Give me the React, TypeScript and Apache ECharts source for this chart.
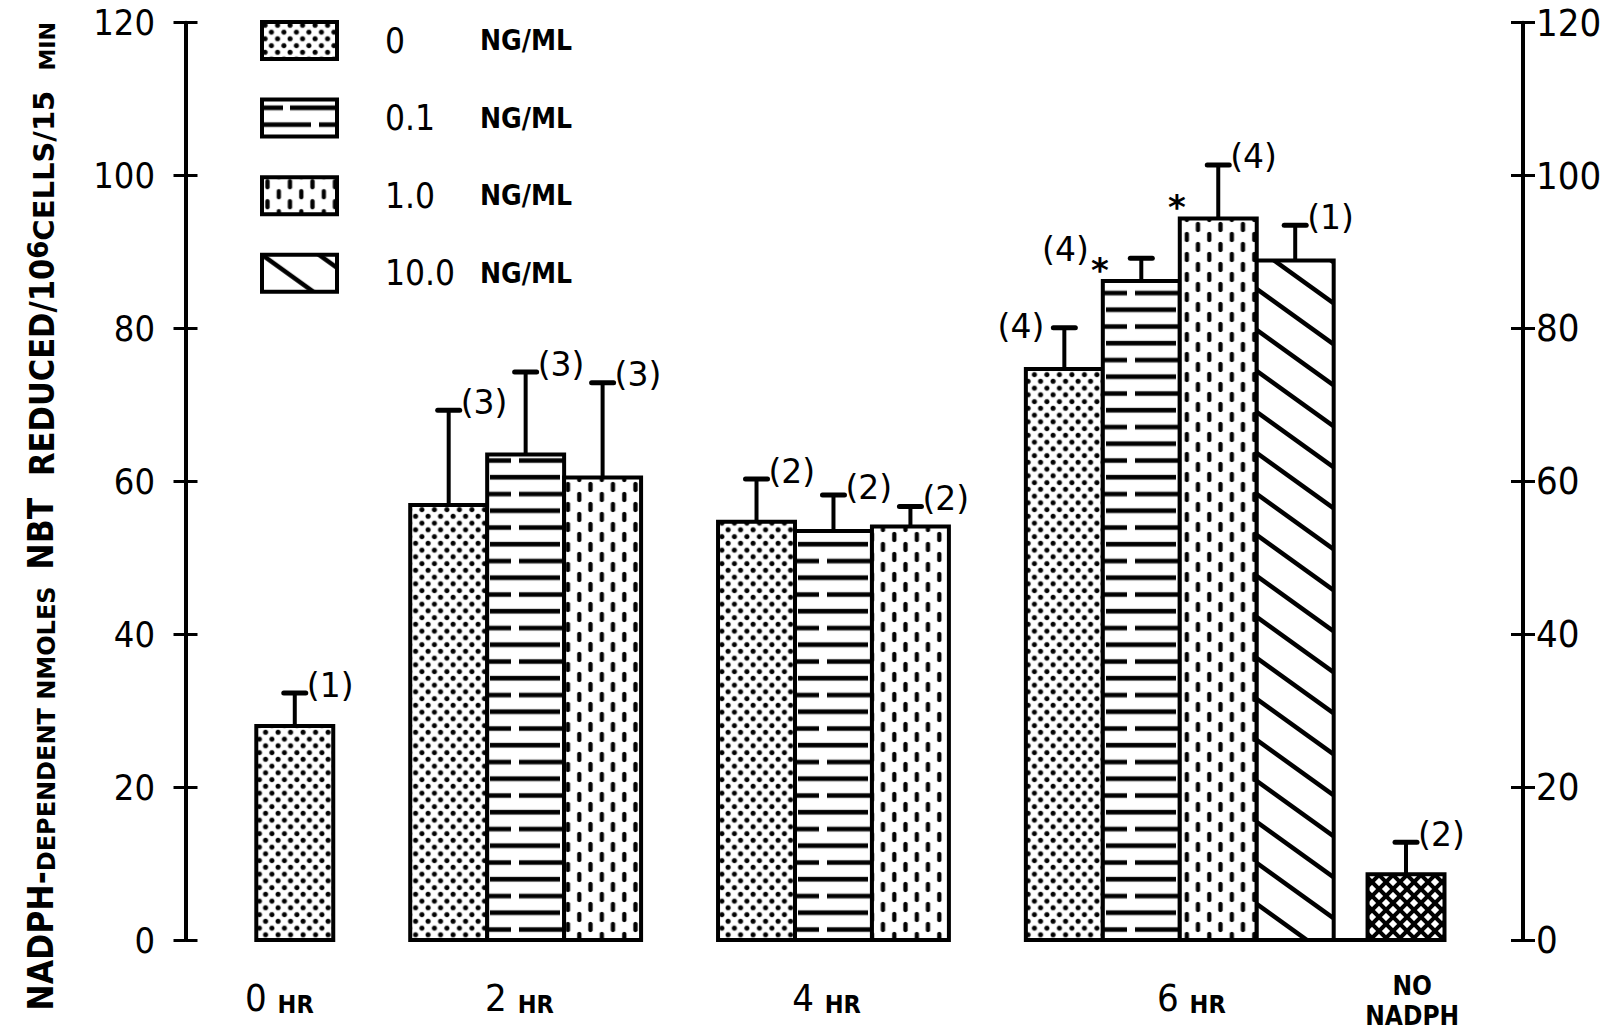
import React, { useEffect, useRef } from "react";
import * as echarts from "echarts";

// ---------------- data ----------------
const GROUPS = ["0 HR", "2 HR", "4 HR", "6 HR", "NO NADPH"];
const CONCENTRATIONS = ["0", "0.1", "1.0", "10.0"];
const UNIT = "NG/ML";

const MEAN_0 = [28.0, 56.9, 54.7, 74.7, null];
const MEAN_01 = [null, 63.5, 53.5, 86.2, null];
const MEAN_1 = [null, 60.5, 54.1, 94.4, null];
const MEAN_10 = [null, null, null, 88.9, null];
const MEAN_NO_NADPH = [null, null, null, null, 8.6];

const SEM_0 = [4.3, 12.4, 5.6, 5.4, null];
const SEM_01 = [null, 10.8, 4.7, 3.0, null];
const SEM_1 = [null, 12.4, 2.6, 7.0, null];
const SEM_10 = [null, null, null, 4.6, null];
const SEM_NO_NADPH = [null, null, null, null, 4.2];

const N_0 = [1, 3, 2, 4, null];
const N_01 = [null, 3, 2, 4, null];
const N_1 = [null, 3, 2, 4, null];
const N_10 = [null, null, null, 1, null];
const N_NO_NADPH = [null, null, null, null, 2];

const SIGNIFICANT_0 = [0, 0, 0, 0, 0];
const SIGNIFICANT_01 = [0, 0, 0, 1, 0];
const SIGNIFICANT_1 = [0, 0, 0, 1, 0];
const SIGNIFICANT_10 = [0, 0, 0, 0, 0];
const SIGNIFICANT_NO = [0, 0, 0, 0, 0];

const Y_TICKS = [0, 20, 40, 60, 80, 100, 120];

// ---------------- layout ----------------
const GROUP_START = [0, 2, 6, 10, 14.44];
const LABEL_SHIFT = [-0.2, -0.08, -0.09, 0.15, 0.08];
const X_MIN = -1.42;
const X_MAX = 15.96;
// n-label placement: 0 right of cap, 1 left of cap, 2 left of asterisk
const SIDE_0 = [0, 0, 0, 1, 0];
const SIDE_01 = [0, 0, 0, 2, 0];
const SIDE_1 = [0, 0, 0, 0, 0];
const SIDE_10 = [0, 0, 0, 0, 0];
const SIDE_NO = [0, 0, 0, 0, 0];

const COND = "'DejaVu Sans Condensed', 'Liberation Sans Narrow', sans-serif";
const DEJAVU = "'DejaVu Sans', sans-serif";

function buildData(means: any[], sems: any[], ns: any[], sig: number[], side: number[], conc: number) {
  const out: number[][] = [];
  means.forEach((m, g) => {
    if (m == null) return;
    out.push([GROUP_START[g] + conc, m, sems[g], ns[g], side[g], sig[g]]);
  });
  return out;
}

// tiles are drawn at 2x and displayed at half size
function tile(w2: number, h2: number, draw: (ctx: CanvasRenderingContext2D) => void) {
  const c = document.createElement("canvas");
  c.width = w2;
  c.height = h2;
  const ctx = c.getContext("2d")!;
  ctx.fillStyle = "#fff";
  ctx.fillRect(0, 0, w2, h2);
  ctx.fillStyle = "#000";
  ctx.strokeStyle = "#000";
  draw(ctx);
  return { image: c, repeat: "repeat", imageWidth: w2 / 2, imageHeight: h2 / 2 };
}

function line(ctx: CanvasRenderingContext2D, x1: number, y1: number, x2: number, y2: number) {
  ctx.beginPath();
  ctx.moveTo(x1, y1);
  ctx.lineTo(x2, y2);
  ctx.stroke();
}

function makePatterns() {
  const dots = tile(25, 27, (ctx) => {
    for (const [x, y] of [[6.25, 6.75], [18.75, 20.25]]) {
      ctx.beginPath();
      ctx.arc(x, y, 5.0, 0, Math.PI * 2);
      ctx.fill();
    }
  });
  const hdash = tile(154, 67, (ctx) => {
    ctx.fillRect(0, 12, 42, 9);
    ctx.fillRect(56, 12, 98, 9);
    ctx.fillRect(0, 45.5, 98, 9);
    ctx.fillRect(114, 45.5, 40, 9);
  });
  const vdash = tile(45, 40, (ctx) => {
    ctx.lineWidth = 8.5;
    ctx.lineCap = "round";
    line(ctx, 11, 8, 11, 20);
    line(ctx, 33.5, 28, 33.5, 40);
    line(ctx, 33.5, -12, 33.5, 0);
  });
  const diag = tile(114, 82, (ctx) => {
    ctx.lineWidth = 9;
    for (const k of [-1, 0, 1]) line(ctx, -10, k * 82 - (10 * 82) / 114, 124, 82 + k * 82 + (10 * 82) / 114);
  });
  const cross = tile(28, 28, (ctx) => {
    ctx.lineWidth = 8;
    for (const k of [-1, 0, 1]) {
      line(ctx, k * 28 - 5, -5, k * 28 + 33, 33);
      line(ctx, k * 28 + 33, -5, k * 28 - 5, 33);
    }
  });
  return { dots, hdash, vdash, diag, cross };
}

function makeRender(pattern: any, offX: number, baselineFrom: number | null) {
  return (params: any, api: any) => {
    const slot = api.value(0);
    const v = api.value(1);
    const e = api.value(2);
    const n = api.value(3);
    const side = api.value(4);
    const star = api.value(5);
    const [cx, yTop] = api.coord([slot, v]);
    const y0 = api.coord([slot, 0])[1];
    const yErr = api.coord([slot, v + e])[1];
    const w = api.size([1, 0])[0];
    const left = cx - w / 2;
    const children: any[] = [];
    if (baselineFrom != null) {
      const xb = api.coord([baselineFrom, 0])[0];
      children.push({ type: "line", shape: { x1: xb, y1: y0, x2: left, y2: y0 }, style: { stroke: "#000", lineWidth: 4 } });
    }
    children.push({ type: "line", shape: { x1: cx, y1: yTop, x2: cx, y2: yErr }, style: { stroke: "#000", lineWidth: 4 } });
    children.push({ type: "line", shape: { x1: cx - 11, y1: yErr, x2: cx + 11, y2: yErr }, style: { stroke: "#000", lineWidth: 5, lineCap: "round" } });
    children.push({
      type: "rect",
      shape: { x: left, y: yTop, width: w, height: y0 - yTop },
      style: { fill: { ...pattern, x: left + offX, y: yTop }, stroke: "#000", lineWidth: 4 },
    });
    let tx = cx + 12, ty = yErr - 8, align = "left";
    if (side === 1) { tx = cx - 20; ty = yErr - 1; align = "right"; }
    if (side === 2) { tx = left - 14; ty = yTop - 32; align = "right"; }
    children.push({
      type: "text",
      style: { text: `(${n})`, x: tx, y: ty, align, verticalAlign: "middle", fontFamily: DEJAVU, fontSize: 33, fill: "#000" },
    });
    if (star) {
      children.push({
        type: "text",
        style: { text: "*", x: left - 3, y: yTop - 20 + 9, align: "center", verticalAlign: "middle", fontFamily: DEJAVU, fontWeight: "bold", fontSize: 34, fill: "#000" },
      });
    }
    return { type: "group", children };
  };
}

export default function App() {
  const ref = useRef<HTMLDivElement>(null);
  useEffect(() => {
    document.body.style.margin = "0";
    const chart = echarts.init(ref.current!, null, { renderer: "svg" });
    const P = makePatterns();
    const patterns = [P.dots, P.hdash, P.vdash, P.diag];
    const offs = [0, 0, 5, 0];
    const seriesNames = CONCENTRATIONS.map((c) => `${c} ${UNIT}`);
    const means = [MEAN_0, MEAN_01, MEAN_1, MEAN_10, MEAN_NO_NADPH];
    const allData = [
      buildData(MEAN_0, SEM_0, N_0, SIGNIFICANT_0, SIDE_0, 0),
      buildData(MEAN_01, SEM_01, N_01, SIGNIFICANT_01, SIDE_01, 1),
      buildData(MEAN_1, SEM_1, N_1, SIGNIFICANT_1, SIDE_1, 2),
      buildData(MEAN_10, SEM_10, N_10, SIGNIFICANT_10, SIDE_10, 3),
    ];
    const labelPos = GROUPS.map((g, i) => {
      const count = means.filter((m) => m[i] != null).length;
      return GROUP_START[i] + (count - 1) / 2 + LABEL_SHIFT[i];
    });
    const series: any[] = allData.map((d, i) => ({
      type: "custom",
      name: seriesNames[i],
      data: d,
      dimensions: ["slot", "mean", "sem", "n", "side", "sig"],
      encode: { x: 0, y: 1 },
      itemStyle: { color: patterns[i] },
      clip: false,
      renderItem: makeRender(patterns[i], offs[i], null),
    }));
    series.push({
      type: "custom",
      name: GROUPS[4],
      data: buildData(MEAN_NO_NADPH, SEM_NO_NADPH, N_NO_NADPH, SIGNIFICANT_NO, SIDE_NO, 0),
      dimensions: ["slot", "mean", "sem", "n", "side", "sig"],
      encode: { x: 0, y: 1 },
      clip: false,
      renderItem: makeRender(P.cross, 0, GROUP_START[3] + 3.5),
    });

    const yBase = {
      type: "value",
      min: Y_TICKS[0],
      max: Y_TICKS[Y_TICKS.length - 1],
      interval: Y_TICKS[1] - Y_TICKS[0],
      splitLine: { show: false },
    };
    const option: any = {
      animation: false,
      backgroundColor: "#fff",
      grid: { left: 185.5, right: 93, top: 22.7, bottom: 90, containLabel: false, outerBoundsMode: "none" },
      legend: {
        orient: "vertical",
        left: 260,
        top: 20,
        padding: 0,
        itemWidth: 75,
        itemHeight: 37,
        itemGap: 36.6,
        selectedMode: false,
        icon: "rect",
        data: seriesNames.map((name, i) => ({
          name,
          icon: "rect",
          itemStyle: { color: patterns[i], borderColor: "#000", borderWidth: 4 },
        })),
        formatter: (name: string) => {
          const [num, unit] = name.split(" ");
          return `{n|${num}}{u|${unit}}`;
        },
        textStyle: {
          rich: {
            n: { fontFamily: COND, fontSize: 35, color: "#000", width: 95, padding: [0, 0, 0, 43], lineHeight: 40 },
            u: { fontFamily: COND, fontWeight: "bold", fontSize: 28, color: "#000", lineHeight: 40 },
          },
        },
      },
      xAxis: {
        type: "value",
        min: X_MIN,
        max: X_MAX,
        axisLine: { show: false },
        axisTick: { show: false },
        splitLine: { show: false },
        axisLabel: {
          customValues: labelPos,
          margin: 31,
          formatter: (v: number) => {
            const i = labelPos.findIndex((c) => Math.abs(c - v) < 1e-6);
            if (i < 0) return "";
            if (i === GROUPS.length - 1) return GROUPS[i].split(" ").map((w) => `{h2|${w}}`).join("\n");
            const [num, hr] = GROUPS[i].split(" ");
            return `{d|${num} }{h|${hr}}`;
          },
          rich: {
            d: { fontFamily: COND, fontSize: 38, color: "#000", lineHeight: 46, verticalAlign: "bottom" },
            h: { fontFamily: COND, fontWeight: "bold", fontSize: 25, color: "#000", lineHeight: 42, verticalAlign: "bottom" },
            h2: { fontFamily: COND, fontWeight: "bold", fontSize: 26, color: "#000", lineHeight: 30 },
          },
        },
      },
      yAxis: [
        {
          ...yBase,
          position: "left",
          axisLine: { show: true, onZero: false, lineStyle: { color: "#000", width: 4 } },
          axisTick: { show: true, inside: false, length: 12, lineStyle: { color: "#000", width: 3 } },
          axisLabel: { margin: 30.5, fontFamily: COND, fontSize: 36, color: "#000" },
          name: "{a|NADPH-}{b|DEPENDENT NMOLES  }{a|NBT  }{c|REDUCED/10}{s|6}{d|CELLS/15  }{e|MIN}",
          nameLocation: "middle",
          nameRotate: 90,
          nameGap: 127,
          nameTextStyle: {
            padding: [0, 70, 0, 0],
            rich: {
              a: { fontFamily: COND, fontWeight: "bold", fontSize: 35, lineHeight: 35, verticalAlign: "bottom", color: "#000" },
              b: { fontFamily: DEJAVU, fontWeight: "bold", fontSize: 24, lineHeight: 24, verticalAlign: "bottom", color: "#000" },
              c: { fontFamily: COND, fontWeight: "bold", fontSize: 34, lineHeight: 34, verticalAlign: "bottom", color: "#000" },
              s: { fontFamily: COND, fontWeight: "bold", fontSize: 29, lineHeight: 29, verticalAlign: "top", color: "#000" },
              d: { fontFamily: DEJAVU, fontWeight: "bold", fontSize: 29, lineHeight: 29, verticalAlign: "bottom", color: "#000" },
              e: { fontFamily: DEJAVU, fontWeight: "bold", fontSize: 22, lineHeight: 22, verticalAlign: "bottom", color: "#000" },
            },
          },
        },
        {
          ...yBase,
          position: "left",
          axisLine: { show: false, onZero: false },
          axisTick: { show: true, inside: true, length: 12, lineStyle: { color: "#000", width: 3 } },
          axisLabel: { show: false },
        },
        {
          ...yBase,
          position: "right",
          axisLine: { show: true, onZero: false, lineStyle: { color: "#000", width: 4 } },
          axisTick: { show: true, inside: false, length: 12, lineStyle: { color: "#000", width: 3 } },
          axisLabel: { margin: 13, fontFamily: COND, fontSize: 38, color: "#000" },
        },
        {
          ...yBase,
          position: "right",
          axisLine: { show: false, onZero: false },
          axisTick: { show: true, inside: true, length: 12, lineStyle: { color: "#000", width: 3 } },
          axisLabel: { show: false },
        },
      ],
      series,
    };
    chart.setOption(option);
    return () => chart.dispose();
  }, []);
  return <div ref={ref} style={{ width: 1616, height: 1030 }} />;
}
